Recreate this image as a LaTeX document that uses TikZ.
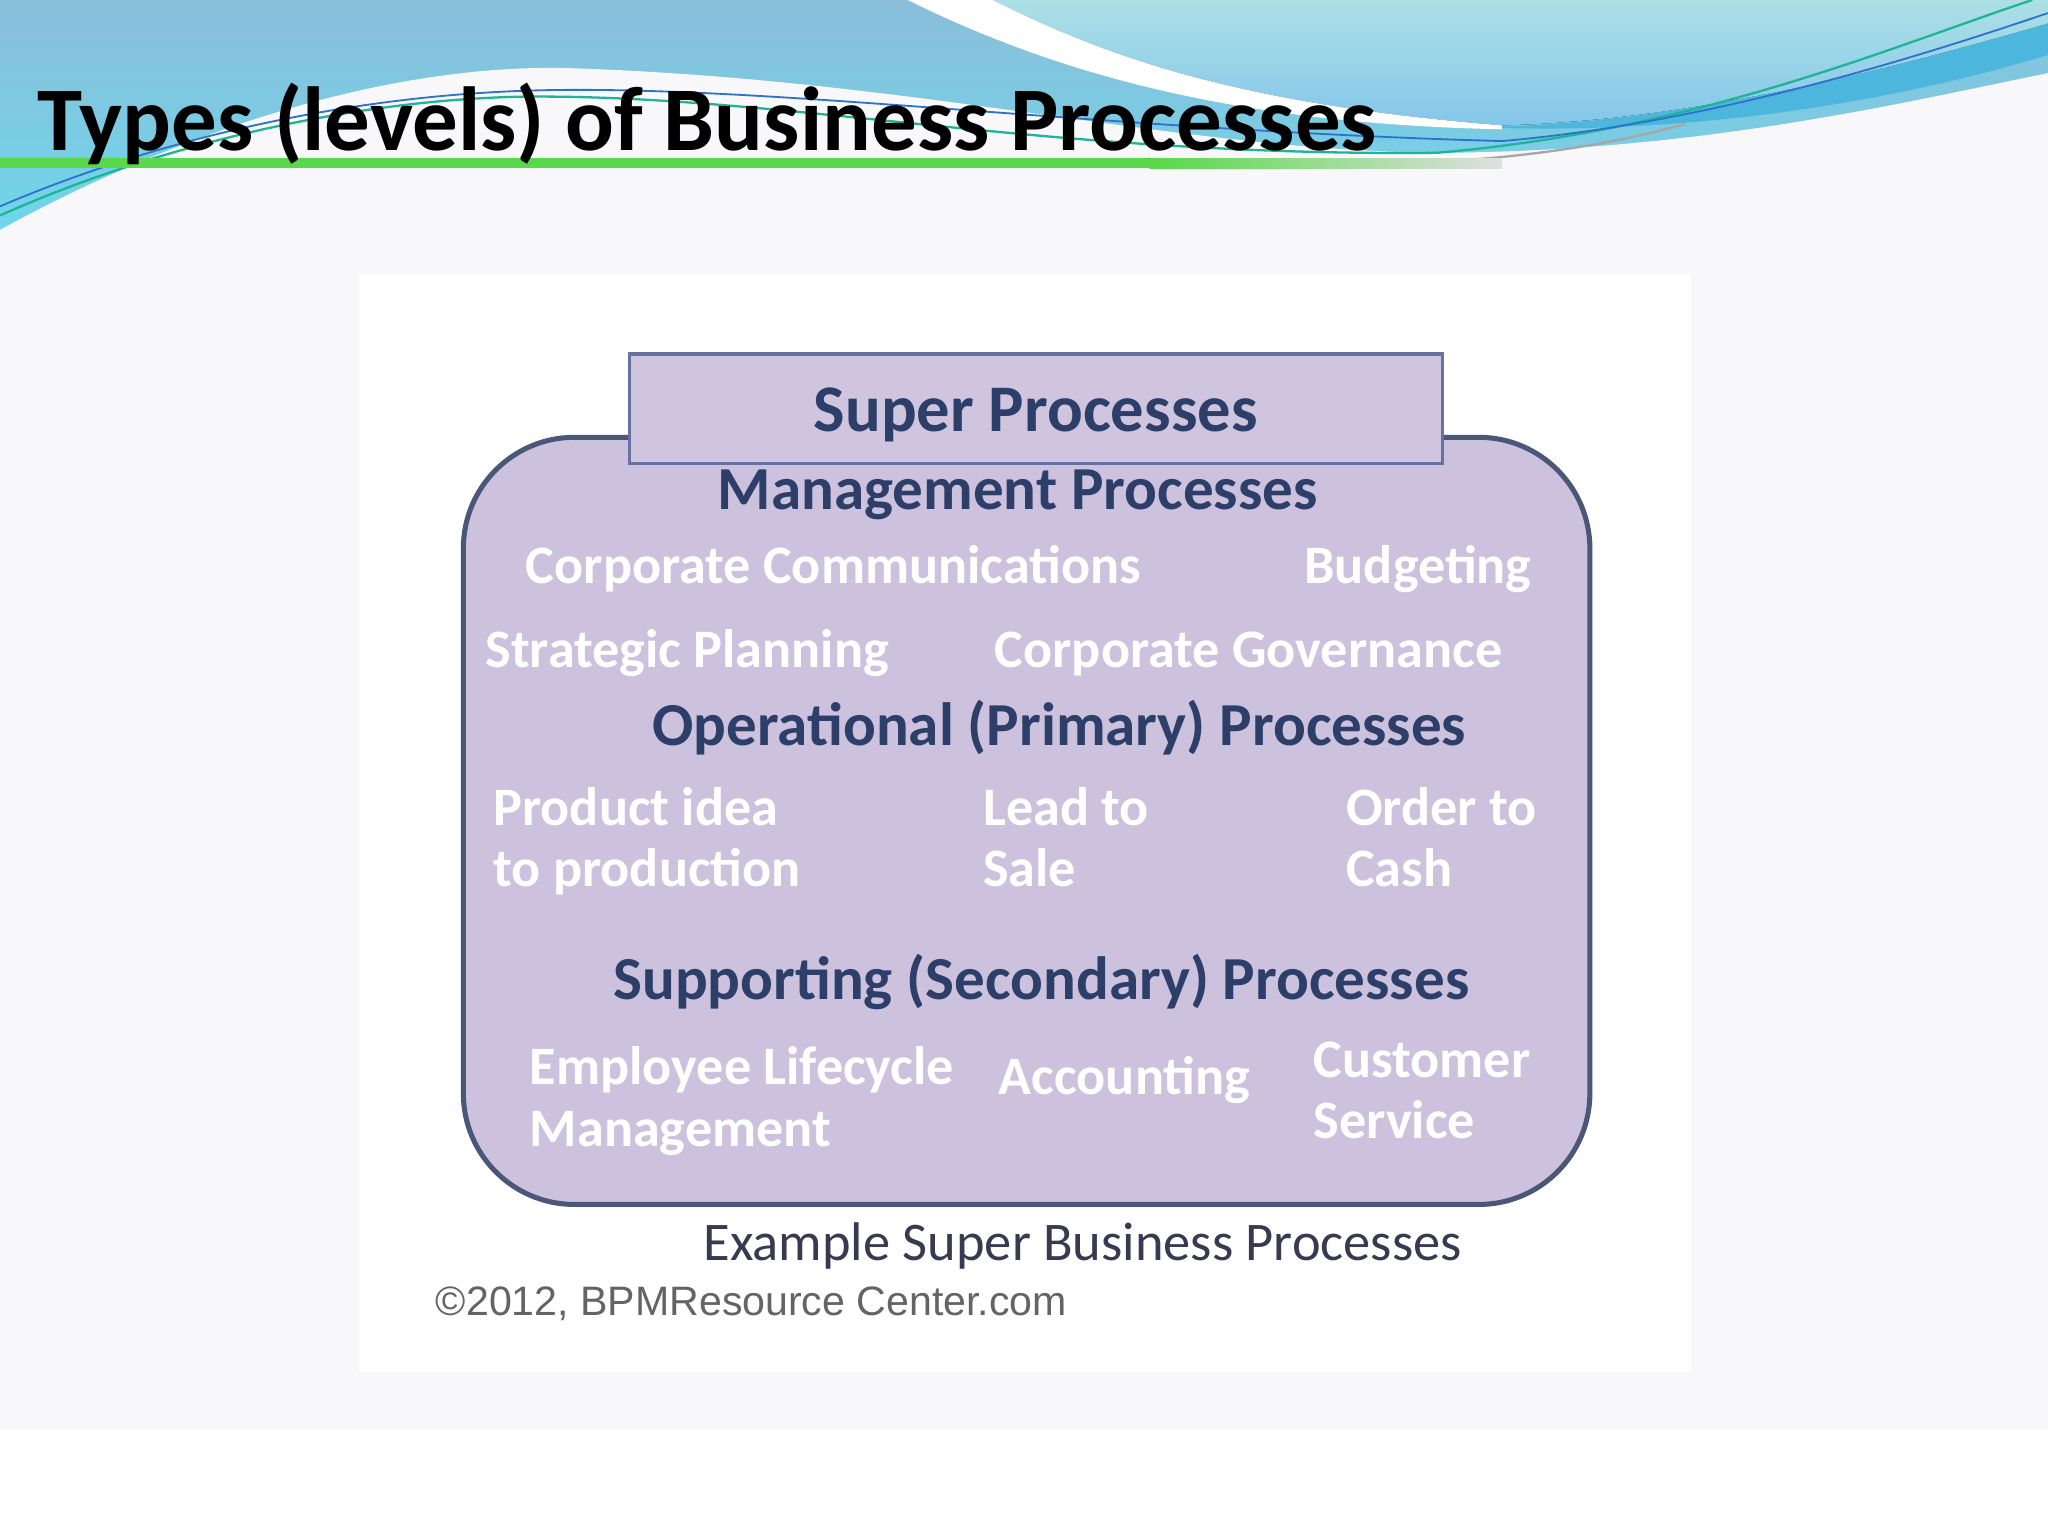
\documentclass[tikz,border=0pt]{standalone}
\usepackage{fontspec}
\setmainfont{Carlito}
\newfontfamily\webfont{Liberation Sans}
\usetikzlibrary{positioning}
\definecolor{skytop}{RGB}{138,190,218}
\definecolor{skybot}{RGB}{110,215,235}
\definecolor{paletop}{RGB}{172,224,230}
\definecolor{palebot}{RGB}{132,198,234}
\definecolor{ribbon}{RGB}{76,182,221}
\definecolor{swgreen}{RGB}{88,216,74}
\definecolor{swteal}{RGB}{30,180,150}
\definecolor{swblue}{RGB}{45,115,205}
\definecolor{slidebg}{RGB}{248,248,250}
\definecolor{lav}{RGB}{204,194,221}
\definecolor{lavline}{RGB}{74,87,120}
\definecolor{supline}{RGB}{102,115,160}
\definecolor{navy}{RGB}{45,62,105}
\definecolor{capgray}{RGB}{55,58,80}
\definecolor{webgray}{RGB}{100,100,100}
\tikzset{
  hdr/.style={anchor=base west, inner sep=0pt, text=navy, font=\fontsize{13.3}{16}\selectfont\bfseries},
  itm/.style={anchor=base west, inner sep=0pt, text=white, font=\fontsize{11.8}{14}\selectfont\bfseries},
}
\begin{document}
\begin{tikzpicture}[x=0.01cm, y=-0.01cm]
  \useasboundingbox (0,0) rectangle (1568,1176);
  \fill[white] (0,0) rectangle (1568,1176);
  \fill[slidebg] (0,0) rectangle (1568,1095);
  \fill[white] (275,210) rectangle (1295,1050); % picture panel
  % header swoosh
  \fill[top color=skytop, bottom color=skybot] (0,0) rectangle (1568,185);
  \fill[top color=paletop, bottom color=palebot] (760,0) .. controls (850,45) and (950,80) .. (1150,96)
    .. controls (1300,92) and (1450,52) .. (1568,18) -- (1568,0) -- cycle;
  \fill[white] (695,0) .. controls (820,62) and (960,95) .. (1150,99) -- (1150,96)
    .. controls (950,80) and (850,45) .. (760,0) -- cycle;
  \fill[ribbon] (1150,97) .. controls (1300,92) and (1450,52) .. (1568,18) -- (1568,42)
    .. controls (1450,78) and (1300,102) .. (1150,98) -- cycle;
  \fill[slidebg] (0,176) .. controls (120,110) and (280,50) .. (430,52)
    .. controls (700,60) and (900,115) .. (1100,117)
    .. controls (1300,116) and (1450,80) .. (1568,56) -- (1568,190) -- (0,190) -- cycle;
  \draw[swteal, line width=0.5pt] (1556,0) .. controls (1450,35) and (1300,100) .. (1100,117)
    .. controls (800,120) and (600,72) .. (400,74) .. controls (250,77) and (100,120) .. (0,165);
  \draw[swblue, line width=0.4pt] (1568,10) .. controls (1450,50) and (1300,95) .. (1150,108)
    .. controls (850,100) and (600,66) .. (420,69) .. controls (250,72) and (100,115) .. (0,158);
  \draw[gray!70, line width=0.5pt] (1290,95) .. controls (1200,120) and (1100,128) .. (950,128);
  \fill[swgreen] (0,121) rectangle (880,129);
  \fill[left color=swgreen, right color=gray!25] (880,121) rectangle (1150,129);
  \node[anchor=base west, inner sep=0pt, font=\fontsize{19.8}{23}\selectfont\bfseries] (title) at (28,115)
    {Types (levels) of Business Processes};
  % diagram
  \node[draw=lavline, line width=1.1pt, fill=lav, rounded corners=0.85cm,
    minimum width=8.62cm, minimum height=5.87cm, inner sep=0pt] (frame) at (786,628.5) {};
  \node[draw=supline, line width=0.7pt, fill=lav!95!white, minimum width=6.22cm, minimum height=0.84cm,
    inner sep=0pt, text height=0.36cm, text depth=0.02cm, text=navy,
    font=\fontsize{14.5}{17}\selectfont\bfseries] (super) at (793,313) {Super Processes};
  \node[hdr] (mgmt) at (549,390) {Management Processes};
  \node[itm] (corpcomm) at (402,447) {Corporate Communications};
  \node[itm] (budget) at (998,447) {Budgeting};
  \node[itm] (strat) at (371,511) {Strategic Planning};
  \node[itm] (corpgov) at (761,511) {Corporate Governance};
  \node[hdr] (oper) at (499,571) {Operational (Primary) Processes};
  \node[itm] (prodidea) at (377,632) {Product idea};
  \node[itm] (prodidea2) at (377,679) {to production};
  \node[itm] (lead) at (752,632) {Lead to};
  \node[itm] (lead2) at (752,679) {Sale};
  \node[itm] (order) at (1030,632) {Order to};
  \node[itm] (order2) at (1030,679) {Cash};
  \node[hdr] (supp) at (469,765) {Supporting (Secondary) Processes};
  \node[itm] (emp) at (405,830) {Employee Lifecycle};
  \node[itm] (emp2) at (405,878) {Management};
  \node[itm] (acct) at (764,838) {Accounting};
  \node[itm] (cust) at (1005,825) {Customer};
  \node[itm] (cust2) at (1005,872) {Service};
  \node[anchor=base west, inner sep=0pt, text=capgray, font=\fontsize{11.85}{14}\selectfont] (caption) at (538,965)
    {Example Super Business Processes};
  \node[anchor=base west, inner sep=0pt, text=webgray, font=\webfont\fontsize{8.95}{11}\selectfont] (web) at (333,1007)
    {©2012, BPMResource Center.com};
\end{tikzpicture}
\end{document}
